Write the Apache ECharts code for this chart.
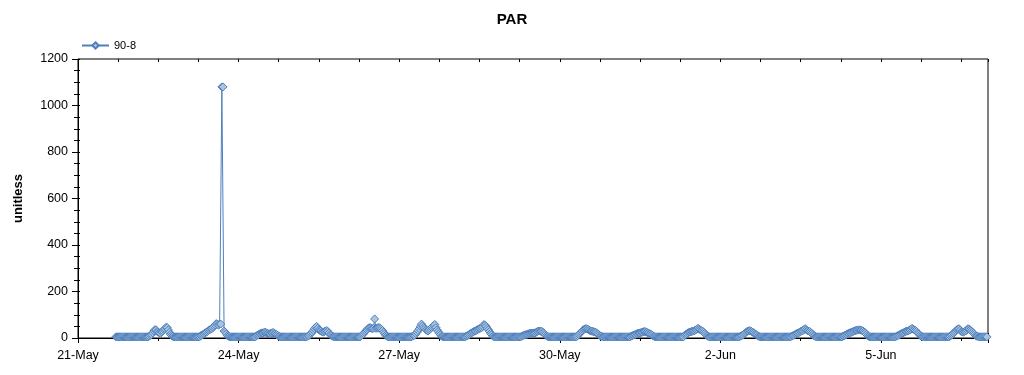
<!DOCTYPE html>
<html>
<head>
<meta charset="utf-8">
<script src="https://cdn.jsdelivr.net/npm/echarts@6/dist/echarts.min.js"></script>
<style>
html,body{margin:0;padding:0;background:#fff;}
#chart{width:1024px;height:375px;}
</style>
</head>
<body>
<div id="chart"></div>
<script>
// Half-hourly PAR readings, one array per day (index = half-hour of day), day 0 = 21-May
const day00 = [null,null,null,null,null,null,null,null,null,null,null,null,null,null,null,null,null,null,null,null,null,null,null,null,null,null,null,null,null,null,null,null,null,null,
  5,5,5,5,5,5,5,5,5,5,5,5,5,5]; // 21-May
const day01 = [5,5,5,5,5,5,5,5,5,5,5,5,5,5,5,5,
  8,12,15,22,30,36,35,28,25,22,20,26,30,36,40,46,45,35,25,16,10,7,
  5,5,5,5,5,5,5,5,5,5]; // 22-May
const day02 = [5,5,5,5,5,5,5,5,5,5,5,5,5,5,
  10,12,15,18,22,25,28,32,35,38,40,45,50,56,62,60,55,60,60,1080,1080,30,25,18,10,7,
  5,5,5,5,5,5,5,5]; // 23-May
const day03 = [5,5,5,5,5,5,5,5,5,5,5,5,5,5,5,5,
  10,12,15,18,20,22,22,24,25,22,20,18,18,20,22,24,20,18,15,12,8,6,
  5,5,5,5,5,5,5,5,5,5]; // 24-May
const day04 = [5,5,5,5,5,5,5,5,5,5,5,5,5,5,
  8,10,15,20,25,32,40,46,50,42,35,32,30,26,25,28,30,32,28,22,15,12,8,6,
  5,5,5,5,5,5,5,5,5,5]; // 25-May
const day05 = [5,5,5,5,5,5,5,5,5,5,5,5,5,5,
  10,14,18,24,30,35,40,44,45,42,40,42,82,42,42,44,45,42,38,32,25,18,12,8,
  5,5,5,5,5,5,5,5,5,5]; // 26-May
const day06 = [5,5,5,5,5,5,5,5,5,5,5,5,
  8,10,12,18,25,32,40,50,60,52,45,40,35,32,30,35,40,45,50,55,58,45,35,28,20,14,8,6,
  5,5,5,5,5,5,5,5]; // 27-May
const day07 = [5,5,5,5,5,5,5,5,5,5,5,5,
  8,10,12,16,20,22,25,28,30,32,35,38,40,42,45,50,58,55,50,42,35,28,20,14,8,6,
  5,5,5,5,5,5,5,5,5,5]; // 28-May
const day08 = [5,5,5,5,5,5,5,5,5,5,5,5,5,5,
  8,10,12,14,15,16,18,20,20,21,20,22,22,25,28,30,30,29,28,24,20,15,10,7,
  5,5,5,5,5,5,5,5,5,5]; // 29-May
const day09 = [5,5,5,5,5,5,5,5,5,5,5,5,5,5,5,5,
  10,15,20,25,30,35,38,40,40,38,35,32,30,29,28,26,25,22,18,14,10,8,6,5,
  5,5,5,5,5,5,5,5]; // 30-May
const day10 = [5,5,5,5,5,5,5,5,5,5,5,5,5,5,5,5,
  8,10,12,14,15,18,20,21,22,24,25,27,28,27,25,22,20,18,15,12,8,6,
  5,5,5,5,5,5,5,5,5,5]; // 31-May
const day11 = [5,5,5,5,5,5,5,5,5,5,5,5,5,5,5,5,
  12,15,18,22,25,26,28,29,30,32,35,38,42,38,35,32,30,25,20,15,10,7,
  5,5,5,5,5,5,5,5,5,5]; // 1-Jun
const day12 = [5,5,5,5,5,5,5,5,5,5,5,5,5,5,5,5,5,5,
  8,10,12,16,20,24,28,30,32,30,28,25,22,18,15,12,8,6,
  5,5,5,5,5,5,5,5,5,5,5,5]; // 2-Jun
const day13 = [5,5,5,5,5,5,5,5,5,5,5,5,5,5,5,5,
  8,10,12,15,18,20,22,25,28,30,32,36,40,36,32,30,28,24,20,15,10,7,
  5,5,5,5,5,5,5,5,5,5]; // 3-Jun
const day14 = [5,5,5,5,5,5,5,5,5,5,5,5,5,5,
  8,10,12,15,18,20,22,24,25,28,30,32,33,34,35,35,34,32,30,26,22,16,10,7,
  5,5,5,5,5,5,5,5,5,5]; // 4-Jun
const day15 = [5,5,5,5,5,5,5,5,5,5,5,5,5,5,
  8,10,12,15,18,20,22,25,28,29,30,32,35,38,42,38,35,32,28,22,18,12,8,6,
  5,5,5,5,5,5,5,5,5,5]; // 5-Jun
const day16 = [5,5,5,5,5,5,5,5,5,5,5,5,5,5,
  8,12,15,20,25,30,35,38,40,34,28,26,25,28,30,35,40,38,35,30,25,20,15,10,8,6,
  5,5,5,5,5,5,5,5]; // 6-Jun

const days = [day00,day01,day02,day03,day04,day05,day06,day07,day08,day09,day10,day11,day12,day13,day14,day15,day16];
const xTickLabels = ['21-May','24-May','27-May','30-May','2-Jun','5-Jun'];
const yTicks = [0,200,400,600,800,1000,1200];
const seriesName = '90-8';

// x = hours since 21-May 00:00
const points = [];
days.forEach((d, di) => d.forEach((v, i) => { if (v !== null) points.push([di * 24 + i / 2, v]); }));

const FONT = "'Liberation Sans', Arial, sans-serif";
const black = '#000';
const X_MAX = 17 * 24;

const baseX = {
  type: 'value', min: 0, max: X_MAX, splitLine: {show: false},
  axisLabel: {show: false}, axisLine: {show: false}
};
const baseY = {
  type: 'value', min: yTicks[0], max: yTicks[yTicks.length - 1], interval: 200,
  splitLine: {show: false}, axisLabel: {show: false}, axisLine: {show: false}
};

const chart = echarts.init(document.getElementById('chart'), null, {renderer: 'canvas'});
chart.setOption({
  animation: false,
  backgroundColor: '#fff',
  title: {
    text: 'PAR', left: 'center', top: 7,
    textStyle: {fontFamily: FONT, fontSize: 15, fontWeight: 'bold', color: black}
  },
  legend: {
    left: 76, top: 35, itemWidth: 27, itemHeight: 8, itemGap: 10,
    textStyle: {fontFamily: FONT, fontSize: 11, color: black},
    data: [seriesName]
  },
  grid: {left: 78, right: 36, top: 59, bottom: 37, show: true, borderColor: black, borderWidth: 1, containLabel: false},
  xAxis: [
    Object.assign({}, baseX, {
      position: 'bottom', interval: 72,
      axisLine: {show: true, onZero: false, lineStyle: {color: black, width: 1}},
      axisTick: {show: true, inside: false, length: 5, lineStyle: {color: black}},
      axisLabel: {show: true, margin: 11, fontFamily: FONT, fontSize: 12.5, color: black,
        formatter: v => { const i = Math.round(v / 72); return (Math.abs(v - i * 72) < 0.01 && xTickLabels[i]) ? xTickLabels[i] : ''; }}
    }),
    Object.assign({}, baseX, {
      position: 'bottom', interval: 72,
      axisTick: {show: true, inside: true, length: 5, lineStyle: {color: black}}
    }),
    Object.assign({}, baseX, {
      position: 'bottom', interval: 18,
      axisTick: {show: true, inside: false, length: 3, lineStyle: {color: black}}
    }),
    Object.assign({}, baseX, {
      position: 'top', interval: 72,
      axisTick: {show: true, inside: true, length: 5, lineStyle: {color: black}}
    }),
    Object.assign({}, baseX, {
      position: 'top', interval: 18,
      axisTick: {show: true, inside: true, length: 3, lineStyle: {color: black}}
    })
  ],
  yAxis: [
    Object.assign({}, baseY, {
      position: 'left',
      name: 'unitless', nameLocation: 'middle', nameGap: 53, nameRotate: 90,
      nameTextStyle: {fontFamily: FONT, fontSize: 13, fontWeight: 'bold', color: black},
      axisLine: {show: true, onZero: false, lineStyle: {color: black, width: 1}},
      axisTick: {show: true, inside: false, length: 6, lineStyle: {color: black}},
      minorTick: {show: true, splitNumber: 4, length: 4, lineStyle: {color: black}},
      axisLabel: {show: true, margin: 10, fontFamily: FONT, fontSize: 12.5, color: black,
        formatter: v => String(v)}
    }),
    Object.assign({}, baseY, {
      position: 'left',
      axisTick: {show: true, inside: true, length: 2, lineStyle: {color: black}},
      minorTick: {show: true, splitNumber: 4, length: 2, lineStyle: {color: black}}
    }),
    Object.assign({}, baseY, {
      position: 'right',
      axisTick: {show: true, inside: true, length: 4, lineStyle: {color: black}},
      minorTick: {show: true, splitNumber: 4, length: 3, lineStyle: {color: black}}
    })
  ],
  series: [{
    name: seriesName, type: 'line', xAxisIndex: 0, yAxisIndex: 0,
    data: points, showAllSymbol: true, symbol: 'diamond', symbolSize: 8,
    lineStyle: {color: '#4f7fbd', width: 1},
    itemStyle: {color: '#aac6de', borderColor: '#4f7fbd', borderWidth: 1},
    clip: true
  }]
});
</script>
</body>
</html>
